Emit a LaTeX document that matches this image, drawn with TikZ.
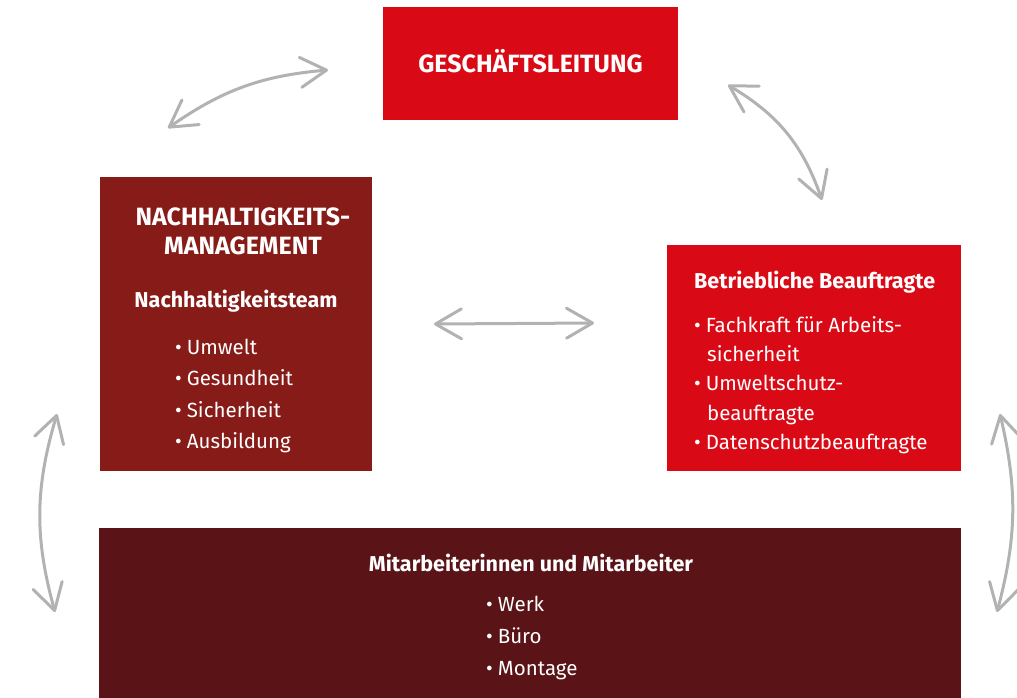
\documentclass[tikz,border=0pt]{standalone}
\usepackage{fontspec}
\setmainfont{Fira Sans}
\usetikzlibrary{arrows.meta}
\definecolor{glred}{HTML}{D90A16}
\definecolor{nhred}{HTML}{861B17}
\definecolor{mared}{HTML}{5A1418}
\definecolor{arrgray}{HTML}{B2B2B2}
\tikzset{
  box/.style={fill=#1, draw=none, inner sep=0pt, anchor=north west},
  caps/.style={text=white, font=\fontsize{25}{29}\selectfont\bfseries, inner sep=0pt, anchor=base},
  head/.style={text=white, font=\fontsize{21.5}{24}\selectfont\bfseries, inner sep=0pt},
  item/.style={text=white, font=\fontsize{20.5}{22}\selectfont, inner sep=0pt, anchor=base west},
  link/.style={arrgray, line width=3pt, line cap=round,
    {Straight Barb[length=26pt,width=30pt,round]}-{Straight Barb[length=26pt,width=30pt,round]}}
}
\begin{document}
\begin{tikzpicture}[x=1pt,y=-1pt]
  \useasboundingbox (0,0) rectangle (1017,697);
  \node[box=glred, minimum width=295pt, minimum height=113pt] (gl) at (383,7) {};
  \node[box=nhred, minimum width=272pt, minimum height=294pt] (nh) at (100,177) {};
  \node[box=glred, minimum width=294pt, minimum height=226pt] (bb) at (667,245) {};
  \node[box=mared, minimum width=862pt, minimum height=170pt] (ma) at (99,528) {};

  \node[caps] (gltxt) at (530.5,72.5) {GESCHÄFTSLEITUNG};
  \node[caps] (nhtxt1) at (243,225) {NACHHALTIGKEITS-};
  \node[caps] (nhtxt2) at (243,254) {MANAGEMENT};
  \node[head, anchor=base] (nhteam) at (236,307) {Nachhaltigkeitsteam};
  \foreach \txt [count=\i] in {Umwelt,Gesundheit,Sicherheit,Ausbildung}
    \node[item] (nhit\i) at (175,{322.4+31.6*\i}) {\textbullet\kern5pt\txt};

  \node[head, anchor=base west] (bbtxt) at (694,288) {Betriebliche Beauftragte};
  \node[item] (bbit1) at (694,332) {\textbullet\kern5pt Fachkraft für Arbeits-};
  \node[item] (bbit1b) at (707,361) {sicherheit};
  \node[item] (bbit2) at (694,390) {\textbullet\kern5pt Umweltschutz-};
  \node[item] (bbit2b) at (707,420) {beauftragte};
  \node[item] (bbit3) at (694,449) {\textbullet\kern5pt Datenschutzbeauftragte};

  \node[head, anchor=base] (matxt) at (531,571) {Mitarbeiterinnen und Mitarbeiter};
  \foreach \txt [count=\i] in {Werk,Büro,Montage}
    \node[item] (mait\i) at (486,{580+31.7*\i}) {\textbullet\kern5pt\txt};

  \coordinate (a1) at (168,128);
  \coordinate (b1) at (328,70);
  \coordinate (a2) at (728,85);
  \coordinate (b2) at (822,200);
  \coordinate (a3) at (434,324);
  \coordinate (b3) at (594,323);
  \coordinate (a4) at (57,414);
  \coordinate (b4) at (55,612);
  \coordinate (a5) at (1000,414);
  \coordinate (b5) at (997,612);
  \draw[link] (a1) to[bend left=15] (b1);
  \draw[link] (a2) to[bend left=20] (b2);
  \draw[link] (a3) -- (b3);
  \draw[link] (a4) to[bend right=16] (b4);
  \draw[link] (a5) to[bend left=14] (b5);
\end{tikzpicture}
\end{document}
